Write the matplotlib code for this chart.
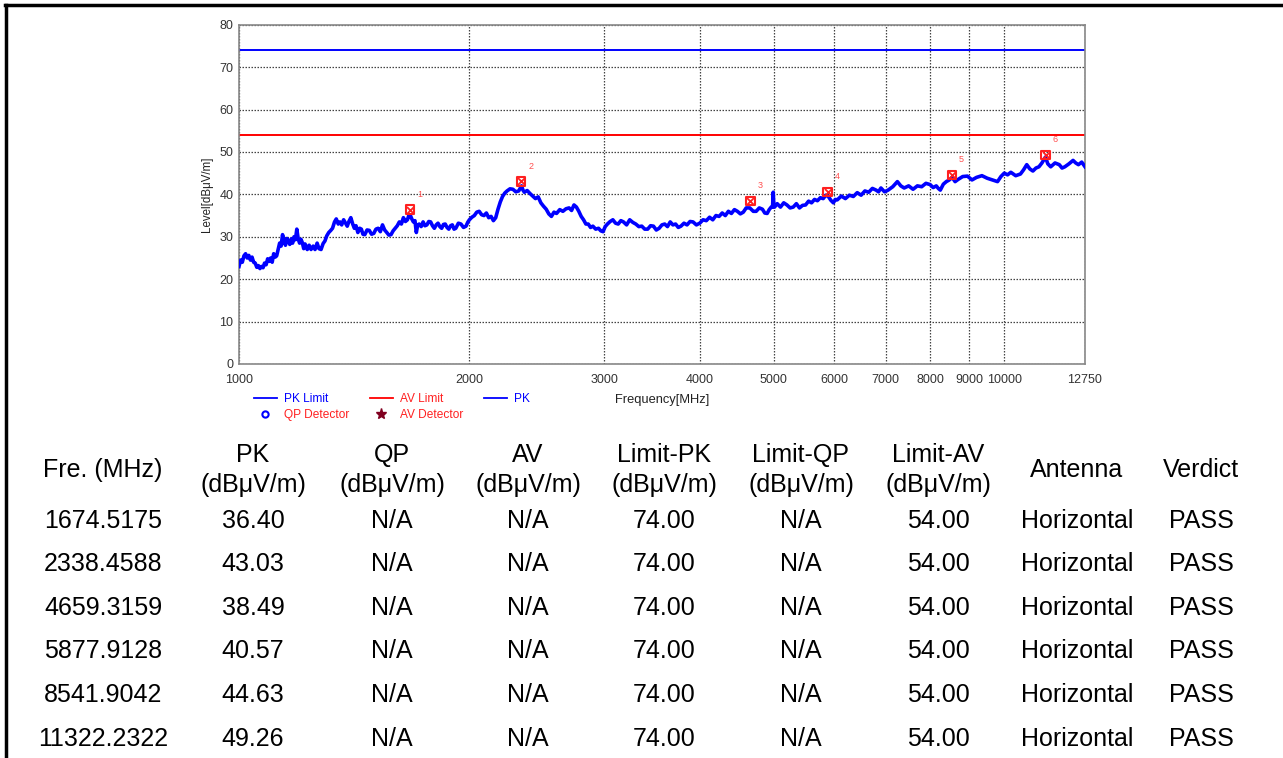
import matplotlib
matplotlib.use("Agg")
import matplotlib.pyplot as plt
from matplotlib.lines import Line2D
import numpy as np

plt.rcParams['font.family'] = ['Liberation Sans', 'DejaVu Sans']

# ---------------- data ----------------
trace_freq = [
    1000, 1005, 1010, 1015, 1020, 1025, 1030, 1035, 1040, 1045, 1050, 1055, 1060, 1065, 1070,
    1075, 1080, 1085, 1090, 1095, 1100, 1105, 1110, 1115, 1120, 1125, 1130, 1135, 1140, 1145,
    1150, 1155, 1160, 1165, 1170, 1175, 1180, 1185, 1190, 1195, 1200, 1205, 1210, 1215, 1220,
    1228, 1235, 1242, 1250, 1257, 1265, 1272, 1280, 1288, 1295, 1302, 1310, 1318, 1325, 1333,
    1340, 1348, 1355, 1362, 1370, 1378, 1385, 1392, 1400, 1408, 1415, 1422, 1430, 1438, 1445,
    1452, 1460, 1470, 1480, 1490, 1500, 1510, 1520, 1530, 1540, 1550, 1560, 1570, 1580, 1590,
    1600, 1610, 1620, 1630, 1640, 1650, 1660, 1668, 1675, 1682, 1690, 1698, 1705, 1712, 1720,
    1730, 1740, 1750, 1760, 1770, 1780, 1790, 1800, 1810, 1820, 1830, 1840, 1850, 1860, 1870,
    1880, 1890, 1900, 1910, 1920, 1935, 1950, 1965, 1980, 1990, 2000, 2015, 2030, 2045, 2060,
    2075, 2090, 2105, 2120, 2135, 2150, 2165, 2180, 2195, 2210, 2225, 2240, 2260, 2280, 2300,
    2320, 2340, 2350, 2360, 2380, 2400, 2420, 2440, 2460, 2480, 2500, 2520, 2540, 2560, 2580,
    2600, 2625, 2650, 2675, 2700, 2720, 2740, 2760, 2780, 2800, 2820, 2840, 2860, 2880, 2900,
    2925, 2950, 2970, 2990, 3010, 3030, 3055, 3080, 3105, 3130, 3155, 3180, 3210, 3240, 3270,
    3300, 3330, 3360, 3390, 3420, 3450, 3480, 3510, 3540, 3570, 3600, 3630, 3660, 3690, 3720,
    3750, 3780, 3815, 3850, 3885, 3920, 3960, 4000, 4040, 4080, 4120, 4160, 4200, 4240, 4280,
    4320, 4360, 4400, 4440, 4480, 4520, 4560, 4600, 4650, 4700, 4740, 4785, 4830, 4865, 4900,
    4930, 4960, 4980, 4990, 5000, 5010, 5050, 5100, 5150, 5200, 5250, 5300, 5350, 5400, 5450,
    5500, 5550, 5600, 5650, 5700, 5750, 5800, 5845, 5890, 5935, 5980, 6015, 6050, 6125, 6200,
    6275, 6350, 6425, 6500, 6575, 6650, 6725, 6800, 6850, 6900, 6975, 7050, 7150, 7250, 7325,
    7400, 7500, 7600, 7700, 7800, 7900, 8000, 8075, 8150, 8200, 8250, 8325, 8400, 8475, 8550,
    8625, 8700, 8825, 8950, 9075, 9200, 9350, 9500, 9650, 9800, 9900, 10000, 10100, 10200,
    10350, 10500, 10600, 10700, 10800, 10900, 11000, 11100, 11200, 11320, 11400, 11500, 11650,
    11800, 11900, 12000, 12150, 12300, 12400, 12500, 12625, 12750]
trace_level = [
    23.0, 24.5, 24.0, 25.5, 26.0, 25.0, 25.6, 24.5, 25.2, 24.0, 23.8, 22.8, 23.2, 22.5, 23.0,
    22.7, 23.8, 23.4, 24.8, 24.2, 25.0, 24.0, 26.0, 25.2, 25.5, 27.0, 28.5, 27.8, 30.5, 29.0,
    28.0, 29.6, 29.0, 28.2, 29.5, 28.5, 30.0, 29.3, 31.8, 29.5, 28.5, 29.4, 28.6, 27.2, 28.3,
    27.0, 28.0, 27.0, 27.8, 27.0, 28.5, 27.2, 27.0, 28.4, 29.0, 30.2, 31.0, 31.5, 32.0, 33.5,
    34.2, 33.0, 33.5, 32.8, 34.0, 33.2, 32.5, 33.6, 34.5, 33.0, 32.0, 32.6, 31.0, 32.0, 31.8,
    30.6, 30.5, 31.6, 31.5, 30.6, 30.8, 31.8, 32.0, 31.2, 32.8, 31.6, 31.0, 30.4, 30.5, 31.4,
    32.0, 32.6, 33.5, 33.0, 34.5, 33.6, 34.0, 35.2, 35.0, 34.2, 33.5, 33.8, 31.0, 32.8, 33.0,
    32.4, 33.5, 32.6, 32.8, 33.6, 33.5, 32.6, 32.0, 32.8, 33.2, 32.4, 32.0, 32.9, 33.0, 32.2,
    31.8, 32.6, 32.8, 31.8, 32.0, 33.2, 33.0, 32.2, 32.5, 33.4, 34.0, 34.6, 35.0, 35.8, 36.0,
    35.2, 35.0, 35.6, 34.5, 34.8, 33.8, 34.5, 36.5, 38.2, 39.5, 40.3, 40.8, 41.3, 41.2, 40.6,
    40.8, 42.0, 41.0, 40.5, 40.9, 40.2, 39.6, 39.0, 39.4, 38.0, 37.2, 36.5, 35.4, 34.8, 35.8,
    35.5, 36.4, 36.0, 36.6, 36.8, 36.2, 37.5, 37.0, 36.0, 34.8, 34.0, 33.0, 33.0, 32.2, 32.5,
    31.8, 32.0, 31.4, 31.2, 32.4, 33.0, 33.6, 34.0, 33.2, 33.0, 33.8, 33.5, 32.8, 34.0, 33.4,
    33.0, 32.4, 32.5, 31.8, 31.8, 32.6, 32.5, 31.6, 32.0, 32.8, 33.0, 32.4, 33.5, 32.8, 33.0,
    32.2, 32.5, 33.2, 32.8, 33.6, 33.5, 32.8, 33.2, 34.0, 33.8, 34.6, 34.0, 35.0, 34.8, 35.6,
    35.0, 36.0, 35.5, 36.4, 36.0, 35.4, 35.8, 36.8, 36.8, 36.0, 36.0, 36.8, 36.5, 35.6, 35.5,
    36.4, 37.0, 37.0, 40.5, 37.2, 37.0, 37.8, 37.0, 38.0, 37.5, 36.8, 37.0, 37.8, 36.8, 37.4,
    37.5, 38.4, 38.0, 38.8, 38.5, 39.2, 39.0, 39.8, 39.5, 38.6, 38.0, 38.8, 38.7, 39.6, 39.0,
    39.8, 39.5, 40.4, 39.8, 40.8, 40.5, 41.4, 41.0, 40.6, 41.5, 40.6, 41.0, 41.8, 43.0, 42.0,
    41.5, 42.0, 41.2, 42.0, 41.8, 42.6, 42.3, 41.6, 42.0, 41.4, 41.0, 42.4, 43.0, 43.4, 44.0,
    43.0, 43.5, 44.2, 44.3, 43.4, 44.0, 44.4, 43.8, 43.4, 43.0, 44.2, 45.0, 44.6, 45.2,
    44.4, 44.8, 45.8, 47.0, 46.0, 45.5, 46.2, 46.5, 47.4, 48.8, 47.2, 46.5, 47.4,
    47.0, 46.2, 46.5, 47.2, 48.0, 47.4, 47.0, 47.6, 46.5]

pk_limit = 74.0
av_limit = 54.0

marker_freq = [1674.5175, 2338.4588, 4659.3159, 5877.9128, 8541.9042, 11322.2322]
marker_pk = [36.40, 43.03, 38.49, 40.57, 44.63, 49.26]
marker_ids = ['1', '2', '3', '4', '5', '6']

x_ticks = [1000, 2000, 3000, 4000, 5000, 6000, 7000, 8000, 9000, 10000, 12750]
y_ticks = [0, 10, 20, 30, 40, 50, 60, 70, 80]

table_header = ["Fre. (MHz)", "PK\n(dBμV/m)", "QP\n(dBμV/m)", "AV\n(dBμV/m)",
                "Limit-PK\n(dBμV/m)", "Limit-QP\n(dBμV/m)", "Limit-AV\n(dBμV/m)",
                "Antenna", "Verdict"]
col_freq = ["1674.5175", "2338.4588", "4659.3159", "5877.9128", "8541.9042", "11322.2322"]
col_pk = ["36.40", "43.03", "38.49", "40.57", "44.63", "49.26"]
col_qp = ["N/A"] * 6
col_av = ["N/A"] * 6
col_lim_pk = ["74.00"] * 6
col_lim_qp = ["N/A"] * 6
col_lim_av = ["54.00"] * 6
col_antenna = ["Horizontal"] * 6
col_verdict = ["PASS"] * 6

# ---------------- figure ----------------
W, H = 1283, 758
fig = plt.figure(figsize=(W / 100, H / 100), dpi=100)
ax = fig.add_axes([239 / W, 1 - 364 / H, (1085 - 239) / W, (364 - 24.7) / H])

ax.set_xscale('log')
ax.set_xlim(1000, 12750)
ax.set_ylim(0, 80)

ax.plot(trace_freq, trace_level, color='#0000ff', lw=2.6, zorder=3)
ax.axhline(pk_limit, color='#0000ff', lw=1.4, zorder=2)
ax.axhline(av_limit, color='#ff0000', lw=1.4, zorder=2)

ax.scatter(marker_freq, marker_pk, marker='s', s=36, facecolors='none',
           edgecolors='#ff2020', linewidths=1.5, zorder=4)
ax.scatter(marker_freq, marker_pk, marker='x', s=26, color='#ff2020',
           linewidths=1.3, zorder=5)
for f, v, t in zip(marker_freq, marker_pk, marker_ids):
    ax.annotate(t, (f, v), xytext=(7, 11), textcoords='offset points',
                color='#ff5050', fontsize=6.5, ha='center', va='center')

ax.set_xticks(x_ticks)
ax.set_xticklabels([str(t) for t in x_ticks])
ax.xaxis.set_minor_locator(matplotlib.ticker.NullLocator())
ax.set_yticks(y_ticks)
ax.tick_params(axis='both', length=0, labelsize=9, colors='#333333', pad=4)
ax.tick_params(axis='x', pad=7)
ax.grid(True, which='major', color='#444444', linestyle=(0, (1.2, 1.2)), lw=0.9)
for s in ax.spines.values():
    s.set_color('#888888')
    s.set_linewidth(1.2)

ax.set_xlabel('Frequency[MHz]', fontsize=9.3, color='#222222', labelpad=6)
ax.set_ylabel('Level[dBμV/m]', fontsize=8.3, color='#222222', labelpad=5)

# legend
handles = [
    Line2D([], [], color='#0000ff', lw=1.3),
    Line2D([], [], marker='o', ls='none', mfc='none', mec='#0000ff', ms=4.5, mew=1.5),
    Line2D([], [], color='#ff0000', lw=1.3),
    Line2D([], [], marker='*', ls='none', color='#800020', ms=8),
    Line2D([], [], color='#0000ff', lw=1.3),
]
labels = ['PK Limit', 'QP Detector', 'AV Limit', 'AV Detector', 'PK']
leg = ax.legend(handles, labels, ncol=3, loc='upper left', bbox_to_anchor=(0.012, -0.072),
                frameon=False, fontsize=8.6, handlelength=1.9, handletextpad=0.6,
                columnspacing=1.75, labelspacing=0.3, borderaxespad=0)
text_colors = ['#0000ff', '#ff2020', '#ff2020', '#ff2020', '#0000ff']
for t, c in zip(leg.get_texts(), text_colors):
    t.set_color(c)

# outer border (top and left)
fig.add_artist(Line2D([5 / W, 1], [1 - 5 / H, 1 - 5 / H], color='black', lw=2.5,
                      transform=fig.transFigure))
fig.add_artist(Line2D([5.5 / W, 5.5 / W], [0, 1 - 5 / H], color='black', lw=2.5,
                      transform=fig.transFigure))

# table
col_x = [103, 253, 392, 528, 664, 801, 938, 1077, 1201]
columns = [col_freq, col_pk, col_qp, col_av, col_lim_pk, col_lim_qp, col_lim_av,
           col_antenna, col_verdict]
row_y = [521, 564, 608, 651, 695, 739]
fs = 18
for x, h in zip(col_x, table_header):
    fig.text(x / W, 1 - 470 / H, h, ha='center', va='center', fontsize=fs,
             linespacing=1.3, color='black')
for x, col in zip(col_x, columns):
    for y, v in zip(row_y, col):
        fig.text(x / W, 1 - y / H, v, ha='center', va='center', fontsize=fs, color='black')

fig.savefig('out.png', dpi=100)
